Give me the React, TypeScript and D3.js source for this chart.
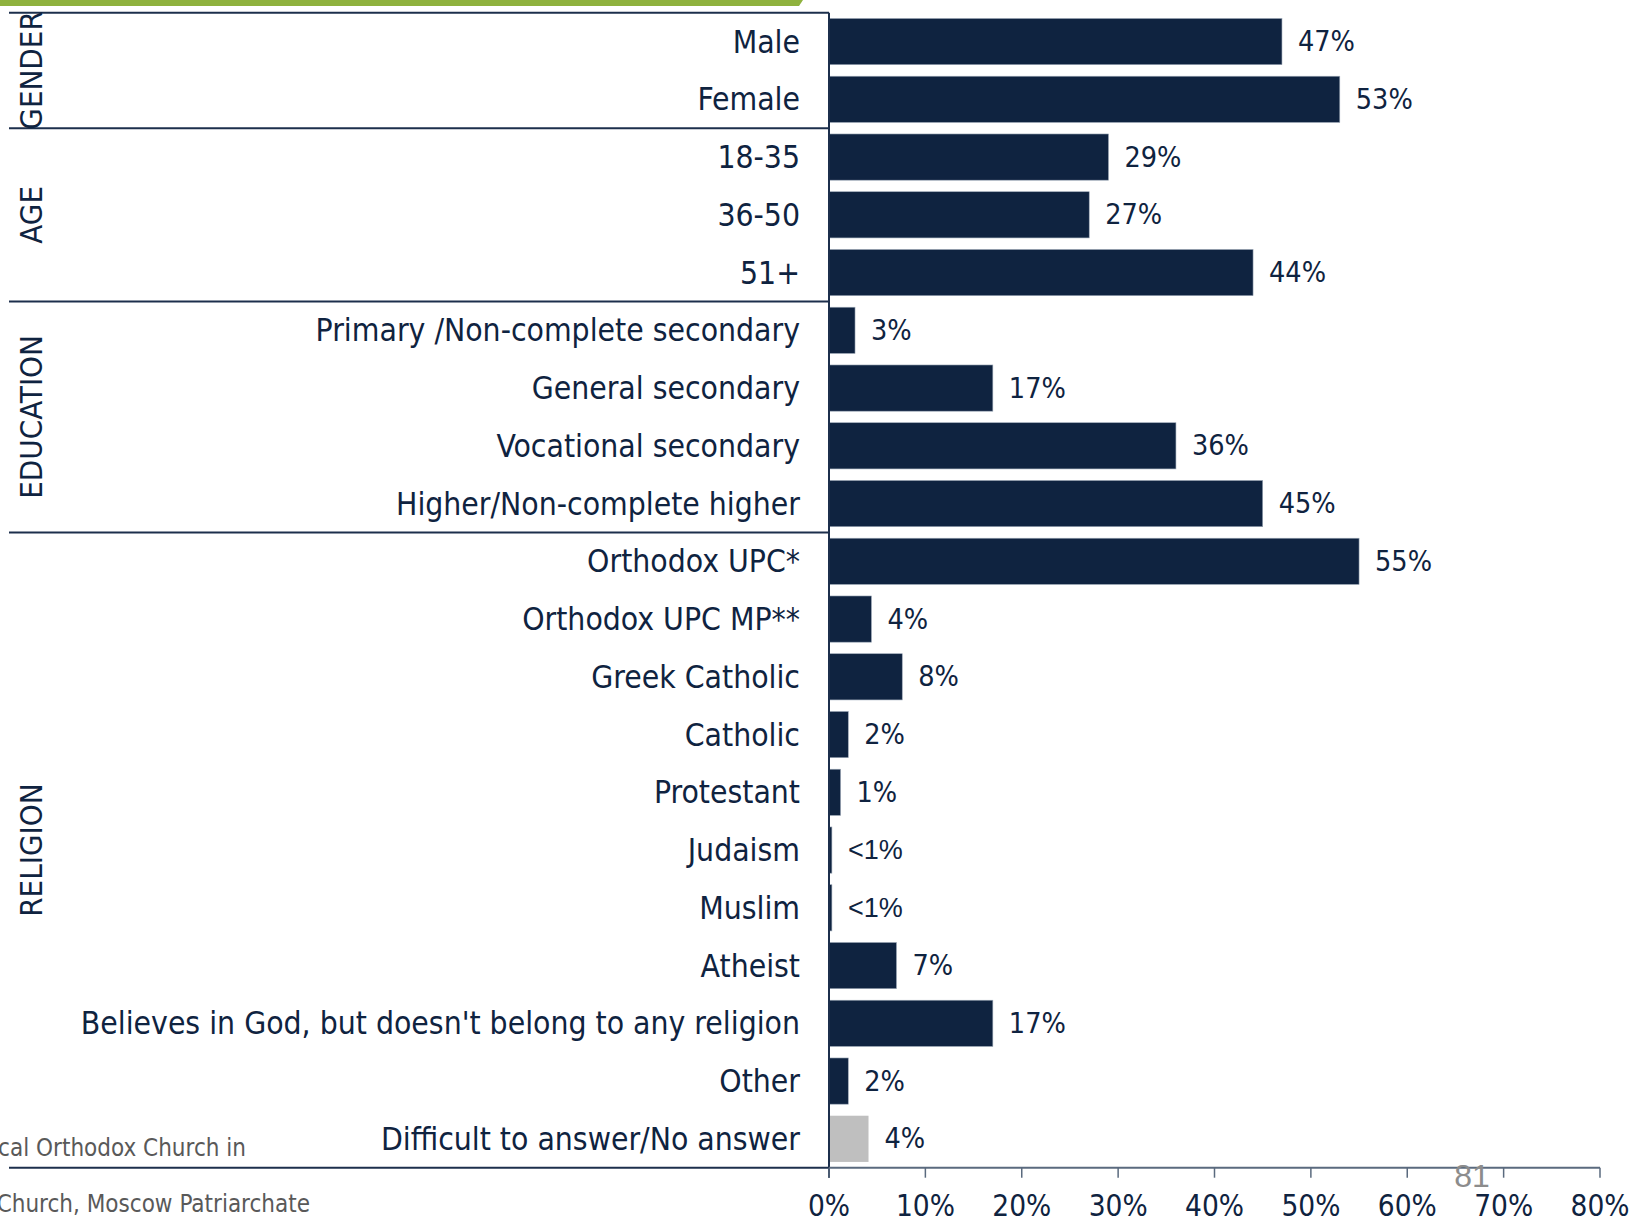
import React from "react";
import * as d3 from "d3";

const categories = [
  "Male", "Female",
  "18-35", "36-50", "51+",
  "Primary /Non-complete secondary", "General secondary", "Vocational secondary", "Higher/Non-complete higher",
  "Orthodox UPC*", "Orthodox UPC MP**", "Greek Catholic", "Catholic", "Protestant", "Judaism", "Muslim",
  "Atheist", "Believes in God, but doesn't belong to any religion", "Other", "Difficult to answer/No answer",
];
const values = [47, 53, 29, 27, 44, 2.7, 17, 36, 45, 55, 4.4, 7.6, 2, 1.2, 0.3, 0.3, 7, 17, 2, 4.1];
const valueLabels = ["47%", "53%", "29%", "27%", "44%", "3%", "17%", "36%", "45%", "55%", "4%", "8%", "2%", "1%", "<1%", "<1%", "7%", "17%", "2%", "4%"];
const groupNames = ["GENDER", "AGE", "EDUCATION", "RELIGION"];
const groupSizes = [2, 3, 4, 11];
const tickValues = [0, 10, 20, 30, 40, 50, 60, 70, 80];
const footLines = ["cal Orthodox Church in", "Church, Moscow Patriarchate"];
const pageNumber = "81";

const W = 1629;
const H = 1222;
const NAVY = "#0f2340";
const GRAY_BAR = "#bfbfbf";
const FONT = "'DejaVu Sans Condensed', 'DejaVu Sans', sans-serif";

export default function App() {
  const x = d3.scaleLinear().domain([0, 80]).range([829, 1600]);
  const top = 12.7;
  const bottom = 1167.7;
  const y = d3.scaleBand<string>().domain(categories).range([top, bottom]).paddingInner(0.2).paddingOuter(0.1);
  const step = y.step();
  const boundary = (i: number) => top + i * step;

  const groups: { name: string; start: number; end: number }[] = [];
  let acc = 0;
  groupNames.forEach((g, i) => {
    groups.push({ name: g, start: acc, end: acc + groupSizes[i] });
    acc += groupSizes[i];
  });

  const axisY = bottom;

  return (
    <svg width={W} height={H} style={{ position: "absolute", left: 0, top: 0, background: "#fff" }}>
      {/* green header strip */}
      <polygon points="0,0 803,0 799,6 0,6" fill="#8fb23e" />

      {/* group separators */}
      {[0, ...groups.map((g) => g.end)].map((b, i) => (
        <line key={"sep" + i} x1={9} x2={x(0)} y1={boundary(b)} y2={boundary(b)} stroke="#1c2f4c" strokeWidth={2} />
      ))}

      {/* group labels */}
      {groups.map((g) => {
        const cy = (boundary(g.start) + boundary(g.end)) / 2;
        return (
          <text
            key={g.name}
            transform={`translate(31,${cy}) rotate(-90)`}
            textAnchor="middle"
            dominantBaseline="central"
            fontFamily={FONT}
            style={{ fontStretch: "condensed" }}
            fontSize={31}
            fill={NAVY}
          >
            {g.name}
          </text>
        );
      })}

      {/* bars */}
      {categories.map((c, i) => (
        <rect
          key={"bar" + i}
          x={x(0)}
          y={y(c)}
          width={x(values[i]) - x(0)}
          height={y.bandwidth()}
          fill={i === categories.length - 1 ? GRAY_BAR : NAVY}
          stroke={i === categories.length - 1 ? "none" : "#9aa6b5"}
          strokeWidth={0.6}
        />
      ))}

      {/* category labels */}
      {categories.map((c, i) => (
        <text
          key={"lab" + i}
          x={800}
          y={(y(c) as number) + y.bandwidth() / 2}
          textAnchor="end"
          dominantBaseline="central"
          fontFamily={FONT}
          style={{ fontStretch: "condensed" }}
          fontSize={31.6}
          fill={NAVY}
        >
          {c}
        </text>
      ))}

      {/* value labels */}
      {categories.map((c, i) => {
        const lt = valueLabels[i].startsWith("<");
        return (
          <text
            key={"val" + i}
            x={x(values[i]) + 16}
            y={(y(c) as number) + y.bandwidth() / 2}
            dominantBaseline="central"
            fontFamily={lt ? "'Liberation Sans Narrow', 'Liberation Sans', sans-serif" : FONT}
            style={lt ? {} : { fontStretch: "condensed" }}
            fontSize={lt ? 27 : 28.5}
            fill={NAVY}
          >
            {valueLabels[i]}
          </text>
        );
      })}

      {/* vertical axis line */}
      <line x1={x(0)} x2={x(0)} y1={top} y2={axisY + 10} stroke="#1c2f4c" strokeWidth={2} />

      {/* bottom axis */}
      <line x1={x(0)} x2={x(80)} y1={axisY} y2={axisY} stroke="#5a6a7e" strokeWidth={2} />
      {tickValues.map((t) => (
        <g key={"t" + t}>
          <line x1={x(t)} x2={x(t)} y1={axisY} y2={axisY + 10} stroke="#5a6a7e" strokeWidth={1.5} />
          <text
            x={x(t)}
            y={1206}
            textAnchor="middle"
            dominantBaseline="central"
            fontFamily={FONT}
            style={{ fontStretch: "condensed" }}
            fontSize={29.5}
            fill={NAVY}
          >
            {t + "%"}
          </text>
        </g>
      ))}

      {/* footnote fragments */}
      <text x={246} y={1148} textAnchor="end" dominantBaseline="central" fontFamily={FONT} style={{ fontStretch: "condensed" }} fontSize={24} fill="#595959">
        {footLines[0]}
      </text>
      <text x={310} y={1204} textAnchor="end" dominantBaseline="central" fontFamily={FONT} style={{ fontStretch: "condensed" }} fontSize={24} fill="#595959">
        {footLines[1]}
      </text>

      {/* page number */}
      <text x={1472} y={1187} textAnchor="middle" fontFamily="'Liberation Sans', Arial, sans-serif" fontSize={32} fill="#8c8c8c">
        {pageNumber}
      </text>
    </svg>
  );
}
